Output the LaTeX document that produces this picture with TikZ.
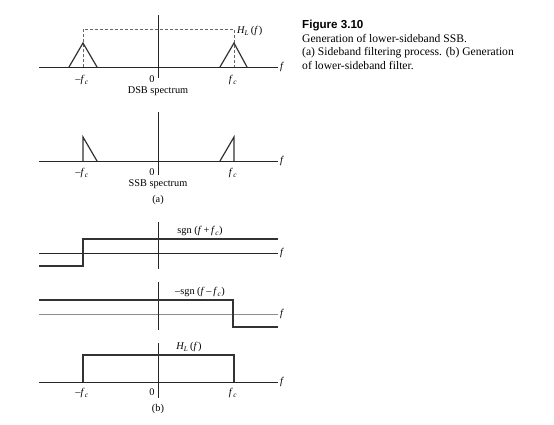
\documentclass[tikz,border=0pt]{standalone}
\usepackage{fontspec}
\setmainfont{Liberation Serif}
\newfontfamily\capsans{Liberation Sans}
\usetikzlibrary{positioning}
\newcommand{\fv}{\textit{f}}
\newcommand{\fcv}{\textit{f}\kern.3pt\textsubscript{\textit{c}}}
\newcommand{\hlf}{\textit{H}\kern-.5pt\textsubscript{\textit{L}}\,(\textit{f}\kern.5pt)}

\begin{document}
\begin{tikzpicture}[x=1pt,y=-1pt,
  axis/.style={line width=0.7pt, black!85},
  faint/.style={line width=0.9pt, black!45},
  sig/.style={line width=1.5pt, black!80},
  guide/.style={dashed, dash pattern=on 3pt off 2pt, line width=0.8pt, black!60},
  lbl/.style={font=\fontsize{10.3}{12}\selectfont, inner sep=1pt},
  captext/.style={font=\fontsize{11.6}{13.6}\selectfont, align=left, inner sep=0pt}
]
\useasboundingbox (0,0) rectangle (554,424);

% (a) DSB spectrum
\draw[axis] (39,67) -- (278,67);
\draw[axis] (158,15) -- (158,78);
\draw[guide] (83,67) -- (83,29) -- (234,29) -- (234,67);
\draw[sig, line width=1.2pt] (69,67) -- (83,43) -- (97,67);
\draw[sig, line width=1.2pt] (220,67) -- (234,43) -- (247,67);
\node[lbl, anchor=west] (fa) at (279,67) {\fv};
\node[lbl, anchor=west] (hla) at (236,31) {\hlf};
\node[lbl] (mfa) at (82,80) {–\fcv};
\node[lbl] (za) at (152,79) {0};
\node[lbl] (pfa) at (233,80) {\fcv};
\node[lbl] (dsb) at (158,91) {DSB spectrum};

% (a) SSB spectrum
\draw[axis] (39,161) -- (278,161);
\draw[axis] (158,112) -- (158,175);
\draw[sig, line width=1.2pt] (83,161) -- (83,137) -- (97,161);
\draw[sig, line width=1.2pt] (220,161) -- (234,137) -- (234,161);
\node[lbl, anchor=west] (fb) at (279,161) {\fv};
\node[lbl] (mfb) at (82,173) {–\fcv};
\node[lbl] (zb) at (152,172) {0};
\node[lbl] (pfb) at (233,173) {\fcv};
\node[lbl] (ssb) at (158,184) {SSB spectrum};
\node[lbl] (parta) at (158,200) {(a)};

% (b) sgn(f+fc)
\draw[axis] (39,253) -- (278,253);
\draw[axis] (158,222) -- (158,269);
\draw[sig] (39,266) -- (83,266) -- (83,239) -- (278,239);
\node[lbl, anchor=west] (fc1) at (279,253) {\fv};
\node[lbl] (sgnp) at (200,231) {sgn (\textit{f}\,+\,\fcv)};

% (b) -sgn(f-fc)
\draw[faint] (39,314) -- (278,314);
\draw[axis] (158,282) -- (158,330);
\draw[sig] (39,300) -- (233,300) -- (233,327) -- (278,327);
\node[lbl, anchor=west] (fc2) at (279,314) {\fv};
\node[lbl] (sgnm) at (200,292) {–sgn (\textit{f}\,–\,\fcv)};

% (b) H_L(f)
\draw[axis] (39,382) -- (278,382);
\draw[axis] (158,343) -- (158,398);
\draw[sig] (83,382) -- (83,355) -- (234,355) -- (234,382);
\node[lbl, anchor=west] (fc3) at (279,382) {\fv};
\node[lbl] (hlb) at (189,347) {\hlf};
\node[lbl] (mfc) at (82,393) {–\fcv};
\node[lbl] (zc) at (152,392) {0};
\node[lbl] (pfc) at (233,393) {\fcv};
\node[lbl] (partb) at (158,409) {(b)};

% caption
\node[captext, anchor=north west] (caption) at (302,20)
  {{\capsans\bfseries Figure 3.10}\\
   Generation of lower-sideband SSB.\\
   (a) Sideband filtering process. (b) Generation\\
   of lower-sideband filter.};
\end{tikzpicture}
\end{document}
